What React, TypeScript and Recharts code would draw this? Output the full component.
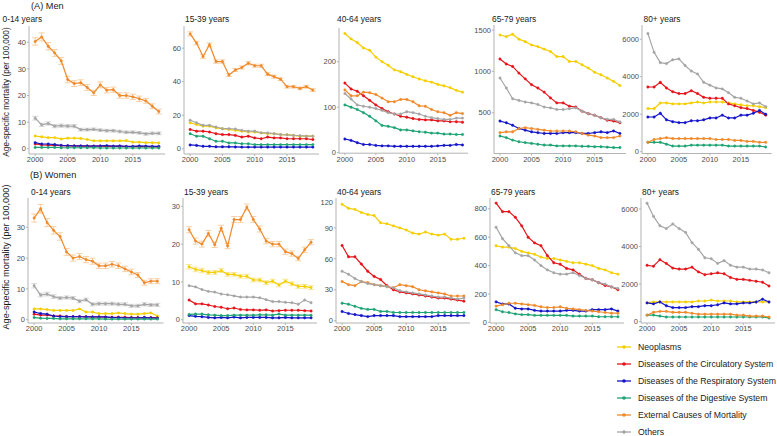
import { ErrorBar, Line, LineChart, XAxis, YAxis } from "recharts";

const YEARS = [
  2000, 2001, 2002, 2003, 2004, 2005, 2006, 2007, 2008, 2009,
  2010, 2011, 2012, 2013, 2014, 2015, 2016, 2017, 2018, 2019,
];
const X_TICKS = [2000, 2005, 2010, 2015];

const SERIES = [
  { key: "neo", name: "Neoplasms", color: "#F4CE00", errColor: "#F8E27A" },
  { key: "circ", name: "Diseases of the Circulatory System", color: "#E5141B", errColor: "#F08A8D" },
  { key: "resp", name: "Diseases of the Respiratory System", color: "#1515C8", errColor: "#8A8AE3" },
  { key: "dig", name: "Diseases of the Digestive System", color: "#1FA374", errColor: "#8FD1B9" },
  { key: "ext", name: "External Causes of Mortality", color: "#F0892A", errColor: "#F7C48F" },
  { key: "oth", name: "Others", color: "#A5A5A5", errColor: "#CDCDCD" },
];

// (A) Men, rate per 100,000
const men0to14 = {
  neo: [4.8, 4.5, 4.2, 4.2, 3.7, 4, 4, 3.9, 3.5, 3, 3, 3, 3, 3, 3.1, 2.5, 2.5, 2.3, 2.3, 2.2],
  circ: [1.8, 1.5, 1.4, 1.3, 1.2, 1.1, 1.1, 1, 1, 1, 1, 0.9, 0.9, 0.9, 0.8, 0.8, 0.8, 0.8, 0.7, 0.7],
  resp: [2.3, 1.8, 1.8, 1.6, 1.3, 1.2, 1.1, 1.1, 1.1, 1, 1.1, 1.2, 1, 1.1, 0.9, 0.9, 1.1, 1, 0.9, 0.9],
  dig: [0.5, 0.5, 0.5, 0.5, 0.4, 0.4, 0.4, 0.4, 0.4, 0.4, 0.3, 0.3, 0.3, 0.3, 0.3, 0.3, 0.3, 0.3, 0.3, 0.3],
  ext: [40.3, 42, 38.5, 36, 33, 26, 24.5, 24.8, 23, 21, 24, 22, 22.2, 20, 20, 19.5, 18.8, 18, 16, 14],
  oth: [11.5, 9, 9.5, 8.5, 8.7, 8.5, 8.5, 7.2, 7.2, 7.3, 7, 6.8, 6.8, 6.5, 6.2, 6.2, 6, 5.6, 5.8, 5.8],
};
const men0to14ExtErr = [1.4, 1.5, 1.4, 1.3, 1.3, 1.2, 1.1, 1.1, 1.1, 1, 1.1, 1, 1, 1, 1, 1, 1, 0.9, 0.9, 0.9];
const men0to14OthErr = [0.7, 0.6, 0.6, 0.6, 0.6, 0.6, 0.6, 0.5, 0.5, 0.5, 0.5, 0.5, 0.5, 0.5, 0.5, 0.5, 0.5, 0.5, 0.5, 0.5];

const men15to39 = {
  neo: [15.5, 14.5, 13.5, 13.5, 12.5, 12, 11.5, 11, 10.5, 10, 10, 9.5, 9, 9, 8.5, 8.5, 8, 7.5, 7.5, 7.5],
  circ: [11.5, 10.5, 10.5, 10, 9, 8.5, 8.5, 8, 7, 7.5, 6.5, 6, 7, 6.5, 6.5, 6, 6, 6, 6, 5.5],
  resp: [2.3, 2, 1.5, 1.5, 1.2, 1.2, 1.2, 1.1, 1, 1, 1, 1, 1, 1, 1, 1, 1, 1, 1, 1],
  dig: [9, 7.5, 7.5, 6, 4.5, 4.5, 3.5, 3.5, 3, 3, 2.5, 2.5, 2.5, 2.5, 2.5, 2.5, 2.5, 2.5, 2.5, 2.5],
  ext: [68.5, 63, 55, 62, 52, 52, 44, 47, 48.5, 51, 49.5, 49.5, 44.5, 43, 41.5, 37, 37, 36, 37, 35],
  oth: [17, 15.5, 14, 14, 13, 12, 12, 11.8, 11, 10.5, 10.5, 9.5, 9.5, 9, 8.5, 8.3, 8, 7.8, 7.5, 7.5],
};
const men15to39ExtErr = [1.2, 1.1, 1.1, 1.1, 1, 1, 0.9, 0.9, 0.9, 1, 0.9, 0.9, 0.9, 0.9, 0.8, 0.8, 0.8, 0.8, 0.8, 0.8];

const men40to64 = {
  neo: [262, 250, 242, 230, 225, 210, 200, 192, 182, 178, 172, 167, 162, 158, 155, 150, 147, 143, 137, 133],
  circ: [153, 140, 135, 125, 115, 105, 97, 90, 85, 80, 78, 75, 73, 72, 72, 70, 70, 68, 68, 67],
  resp: [30, 27, 22, 18, 18, 16, 15, 15, 14, 14, 14, 14, 14, 14, 14, 15, 16, 16, 18, 17],
  dig: [105, 100, 95, 88, 80, 70, 60, 58, 55, 50, 50, 48, 46, 45, 43, 43, 41, 41, 40, 40],
  ext: [138, 125, 125, 133, 132, 128, 120, 112, 112, 117, 117, 112, 103, 102, 95, 90, 88, 82, 88, 86],
  oth: [130, 118, 105, 102, 100, 97, 93, 88, 85, 85, 90, 88, 85, 80, 77, 75, 73, 73, 76, 76],
};

const men65to79 = {
  neo: [1440, 1420, 1450, 1390, 1360, 1320, 1300, 1270, 1240, 1180, 1180, 1120, 1120, 1080, 1040, 990, 960, 920, 880, 830],
  circ: [1150, 1090, 1060, 980, 910, 840, 800, 750, 680, 620, 620, 580, 570, 520, 490, 470, 440, 410, 400, 380],
  resp: [400, 380, 350, 310, 290, 270, 260, 250, 250, 250, 260, 260, 260, 250, 250, 260, 270, 260, 280, 250],
  dig: [220, 200, 170, 150, 140, 130, 120, 110, 110, 100, 100, 100, 100, 95, 95, 90, 90, 85, 80, 80],
  ext: [260, 270, 270, 310, 320, 310, 300, 290, 280, 280, 280, 280, 270, 250, 230, 220, 200, 200, 200, 220],
  oth: [920, 800, 670, 650, 630, 620, 600, 570, 560, 540, 540, 550, 560, 520, 490, 470, 440, 420, 420, 390],
};

const men80plus = {
  neo: [2300, 2300, 2600, 2600, 2550, 2550, 2550, 2600, 2650, 2600, 2650, 2650, 2650, 2600, 2550, 2500, 2450, 2450, 2400, 2350],
  circ: [3450, 3450, 3700, 3400, 3200, 3100, 3100, 3250, 3100, 2900, 2850, 2850, 2850, 2550, 2450, 2350, 2300, 2200, 2100, 1950],
  resp: [1850, 1850, 2050, 1700, 1600, 1550, 1550, 1650, 1650, 1700, 1800, 1800, 1950, 1800, 1800, 1950, 1950, 2050, 2200, 2000],
  dig: [500, 500, 500, 400, 300, 300, 300, 350, 350, 350, 350, 350, 350, 300, 300, 300, 300, 300, 300, 250],
  ext: [500, 650, 700, 750, 700, 700, 700, 700, 700, 700, 700, 650, 650, 650, 600, 600, 550, 550, 500, 500],
  oth: [6300, 5300, 4750, 4700, 4900, 4950, 4600, 4300, 4150, 3700, 3550, 3400, 3350, 3150, 2900, 2850, 2700, 2550, 2600, 2400],
};

// (B) Women, rate per 100,000
const women0to14 = {
  neo: [3.5, 3.5, 3.3, 3, 3, 3, 3, 3.5, 2.5, 2.5, 2, 2, 2, 2.2, 2, 1.8, 1.8, 2, 2.2, 1.2],
  circ: [1.8, 1.5, 1.5, 1.2, 1.2, 1, 1, 1, 1, 0.9, 0.9, 0.8, 0.8, 0.8, 0.8, 0.7, 0.7, 0.7, 0.7, 0.6],
  resp: [2.5, 2, 1.8, 1.2, 1, 1, 1, 1, 0.9, 0.9, 0.9, 0.9, 0.7, 0.7, 0.6, 0.6, 0.6, 0.7, 0.6, 0.5],
  dig: [0.7, 0.5, 0.4, 0.4, 0.3, 0.3, 0.3, 0.3, 0.3, 0.3, 0.3, 0.2, 0.2, 0.2, 0.2, 0.2, 0.2, 0.2, 0.2, 0.2],
  ext: [33, 36, 31.5, 29, 27, 22, 20, 20.5, 19.5, 19, 17.5, 17.5, 18, 17.5, 16.5, 15.5, 14.5, 12, 12.5, 12.5],
  oth: [11, 8, 8.3, 7.5, 7, 7.2, 7, 6, 6.5, 5, 5.2, 5.2, 5.2, 5, 5, 4.5, 4.5, 5, 4.8, 4.8],
};
const women0to14ExtErr = [1.3, 1.4, 1.3, 1.2, 1.2, 1.1, 1, 1, 1, 1, 0.9, 0.9, 0.9, 0.9, 0.9, 0.9, 0.8, 0.8, 0.8, 0.8];
const women0to14OthErr = [0.7, 0.6, 0.6, 0.6, 0.5, 0.5, 0.5, 0.5, 0.5, 0.5, 0.5, 0.5, 0.5, 0.5, 0.5, 0.5, 0.5, 0.5, 0.5, 0.5];

const women15to39 = {
  neo: [14, 13.3, 13, 12.5, 12.5, 13, 12, 12, 11.5, 11.5, 10.5, 10.5, 9.8, 10.2, 9.2, 10.2, 9.5, 8.8, 8.8, 8.5],
  circ: [5.2, 4.2, 4.2, 3.9, 3.5, 3.3, 2.9, 3.1, 2.7, 2.6, 2.6, 2.5, 2.6, 2.3, 2.4, 2.5, 2.5, 2.5, 2.4, 2.3],
  resp: [1.1, 0.9, 0.8, 0.6, 0.5, 0.6, 0.5, 0.7, 0.5, 0.6, 0.6, 0.6, 0.6, 0.5, 0.5, 0.6, 0.5, 0.5, 0.5, 0.5],
  dig: [1.4, 1.5, 1.5, 1.3, 1.2, 1.1, 1.1, 1.2, 1.2, 1.2, 1.2, 1.3, 1.3, 1.2, 1.5, 1.2, 1.2, 1.2, 1.2, 1.2],
  ext: [23.8, 20.8, 20, 22.8, 19.8, 24.2, 19.5, 26.5, 26.5, 29.8, 26.5, 24, 20.8, 20, 20, 18, 17.5, 16.2, 18.5, 20.5],
  oth: [9, 8.7, 8, 7.5, 7.3, 6.8, 6.6, 6.3, 6, 6, 6, 5.8, 5.3, 4.8, 4.8, 4.6, 4.5, 4.1, 5.2, 4.5],
};
const women15to39ExtErr = [0.8, 0.8, 0.8, 0.8, 0.7, 0.8, 0.7, 0.8, 0.8, 0.8, 0.8, 0.8, 0.7, 0.7, 0.7, 0.7, 0.7, 0.6, 0.7, 0.7];
const women15to39NeoErr = [0.6, 0.6, 0.6, 0.5, 0.5, 0.5, 0.5, 0.5, 0.5, 0.5, 0.5, 0.5, 0.5, 0.5, 0.5, 0.5, 0.5, 0.5, 0.5, 0.5];

const women40to64 = {
  neo: [113, 109, 108, 105, 103, 102, 95, 94, 92, 90, 88, 85, 84, 86, 84, 83, 84, 79, 79, 80],
  circ: [73, 62, 62, 55, 48, 43, 40, 34, 30, 28, 27, 26, 25, 24, 23, 22, 22, 21, 20, 19],
  resp: [9, 7, 6, 5, 4, 5, 5, 5, 5, 4, 4, 4, 4, 4, 4, 5, 5, 5, 5, 5],
  dig: [17, 16, 14, 12, 11, 11, 9, 9, 8, 8, 8, 8, 8, 8, 8, 8, 8, 8, 8, 8],
  ext: [38, 35, 34, 38, 37, 35, 34, 33, 32, 35, 34, 33, 30, 29, 28, 27, 26, 24, 24, 24],
  oth: [48, 45, 41, 38, 36, 35, 34, 33, 32, 29, 28, 27, 26, 25, 24, 23, 23, 22, 21, 22],
};

const women65to79 = {
  neo: [540, 530, 530, 520, 500, 490, 480, 460, 450, 450, 440, 430, 420, 420, 410, 400, 380, 370, 350, 340],
  circ: [840, 780, 780, 740, 680, 600, 560, 540, 470, 420, 410, 380, 370, 340, 310, 300, 280, 260, 250, 230],
  resp: [145, 130, 130, 100, 95, 95, 85, 80, 80, 80, 80, 85, 85, 80, 80, 90, 90, 90, 95, 80],
  dig: [90, 75, 70, 60, 55, 55, 50, 50, 50, 50, 50, 50, 45, 45, 45, 45, 40, 40, 40, 40],
  ext: [115, 125, 135, 135, 130, 125, 120, 110, 105, 105, 110, 100, 95, 90, 85, 80, 75, 70, 65, 65],
  oth: [670, 590, 540, 490, 470, 470, 440, 400, 370, 350, 340, 340, 350, 330, 310, 300, 280, 270, 250, 240],
};

const women80plus = {
  neo: [1000, 1050, 1050, 1050, 1050, 1050, 1050, 1050, 1100, 1100, 1150, 1100, 1100, 1100, 1050, 1050, 1050, 1050, 1050, 1050],
  circ: [3000, 2950, 3300, 3100, 2850, 2800, 2800, 2900, 2650, 2500, 2550, 2600, 2550, 2350, 2250, 2250, 2200, 2150, 2100, 1900],
  resp: [1000, 950, 1050, 850, 750, 750, 750, 800, 800, 850, 850, 900, 1000, 950, 950, 1000, 1000, 1050, 1200, 1050],
  dig: [350, 350, 300, 250, 250, 250, 250, 250, 250, 250, 250, 250, 250, 250, 250, 250, 250, 250, 250, 200],
  ext: [350, 500, 550, 550, 500, 500, 500, 450, 400, 400, 400, 400, 400, 400, 350, 350, 300, 300, 300, 250],
  oth: [6300, 5600, 5100, 4950, 5200, 4950, 4750, 4200, 3850, 3400, 3350, 3100, 3250, 3000, 2900, 2900, 2800, 2800, 2750, 2600],
};

type SeriesData = Record<string, number[]>;
type Panel = {
  title: string;
  titleX: number;
  data: SeriesData;
  errors?: SeriesData;
  yTicks: number[];
  yDomain: [number, number];
  box: { left: number; right: number; top: number; bottom: number };
};

const ROW_A = { top: 25.5, bottom: 153.5 };
const ROW_B = { top: 198.3, bottom: 323.3 };

const PANELS: Panel[] = [
  { title: "0-14 years", titleX: 2.5, data: men0to14, errors: { ext: men0to14ExtErr, oth: men0to14OthErr },
    yTicks: [0, 10, 20, 30, 40], yDomain: [-1.95, 46.1], box: { left: 29, right: 165, ...ROW_A } },
  { title: "15-39 years", titleX: 185, data: men15to39, errors: { ext: men15to39ExtErr },
    yTicks: [0, 20, 40, 60], yDomain: [-3.1, 73.2], box: { left: 184, right: 319, ...ROW_A } },
  { title: "40-64 years", titleX: 337, data: men40to64,
    yTicks: [0, 100, 200], yDomain: [-1.1, 274], box: { left: 338.6, right: 468, top: 28.3, bottom: 153.5 } },
  { title: "65-79 years", titleX: 492, data: men65to79,
    yTicks: [500, 1000, 1500], yDomain: [8, 1561], box: { left: 493.7, right: 625.6, top: 25, bottom: 153.5 } },
  { title: "80+ years", titleX: 643.5, data: men80plus,
    yTicks: [0, 2000, 4000, 6000], yDomain: [-96, 6757], box: { left: 642.4, right: 772, top: 25, bottom: 153.5 } },
  { title: "0-14 years", titleX: 31, data: women0to14, errors: { ext: women0to14ExtErr, oth: women0to14OthErr },
    yTicks: [0, 10, 20, 30], yDomain: [-1.07, 39.5], box: { left: 28.3, right: 163.8, ...ROW_B } },
  { title: "15-39 years", titleX: 184, data: women15to39, errors: { ext: women15to39ExtErr, neo: women15to39NeoErr },
    yTicks: [0, 10, 20, 30], yDomain: [-0.87, 32.2], box: { left: 182.6, right: 316.8, ...ROW_B } },
  { title: "40-64 years", titleX: 337, data: women40to64,
    yTicks: [0, 30, 60, 90, 120], yDomain: [-2.2, 119], box: { left: 336.4, right: 470.4, ...ROW_B } },
  { title: "65-79 years", titleX: 491, data: women65to79,
    yTicks: [0, 200, 400, 600, 800], yDomain: [-4, 876], box: { left: 489.7, right: 623.7, ...ROW_B } },
  { title: "80+ years", titleX: 642, data: women80plus,
    yTicks: [0, 2000, 4000, 6000], yDomain: [-69, 6578], box: { left: 640.9, right: 775, ...ROW_B } },
];

const FONT = '"Liberation Sans", Arial, sans-serif';
const AXIS_COLOR = "#B3B3B3";
const TICK_STYLE = { fontSize: 7.5, fill: "#4D4D4D", fontFamily: FONT };
const Y_AXIS_W = 30;
const X_AXIS_H = 14;

function SmallMultiple({ panel }: { panel: Panel }) {
  const { box, data, errors } = panel;
  const rows = YEARS.map((year, i) => {
    const row: Record<string, number> = { year };
    for (const s of SERIES) {
      row[s.key] = data[s.key][i];
      if (errors?.[s.key]) row[`${s.key}Err`] = errors[s.key][i];
    }
    return row;
  });

  const width = box.right - box.left + Y_AXIS_W;
  const height = box.bottom - box.top + X_AXIS_H;

  return (
    <div style={{ position: "absolute", left: box.left - Y_AXIS_W, top: box.top }}>
      <LineChart width={width} height={height} data={rows} margin={{ top: 0, right: 0, bottom: 0, left: 0 }}>
        <XAxis
          dataKey="year"
          type="number"
          domain={[1999.05, 2019.95]}
          ticks={X_TICKS}
          height={X_AXIS_H}
          stroke={AXIS_COLOR}
          tick={TICK_STYLE}
          tickSize={2}
          tickMargin={1}
          allowDataOverflow
        />
        <YAxis
          type="number"
          domain={panel.yDomain}
          ticks={panel.yTicks}
          width={Y_AXIS_W}
          stroke={AXIS_COLOR}
          tick={TICK_STYLE}
          tickSize={2}
          tickMargin={1}
          allowDataOverflow
        />
        {SERIES.map((s) => (
          <Line
            key={s.key}
            dataKey={s.key}
            type="linear"
            stroke={s.color}
            strokeWidth={1.2}
            dot={{ r: 1.2, fill: s.color, stroke: s.color, strokeWidth: 0.5 }}
            isAnimationActive={false}
          >
            {errors?.[s.key] && (
              <ErrorBar dataKey={`${s.key}Err`} width={3} stroke={s.errColor} strokeWidth={0.8} direction="y" />
            )}
          </Line>
        ))}
      </LineChart>
    </div>
  );
}

const LEGEND_ROWS = [347, 364, 381, 398, 415, 432];

export default function App() {
  return (
    <div style={{ position: "absolute", left: 0, top: 0, width: 777, height: 436, background: "#fff", fontFamily: FONT }}>
      {PANELS.map((p, i) => (
        <SmallMultiple key={i} panel={p} />
      ))}
      <svg width={777} height={436} style={{ position: "absolute", left: 0, top: 0, pointerEvents: "none" }}>
        <g fontFamily={FONT} fill="#1A1A1A">
          <text x={31} y={6} fontSize={9.2} dominantBaseline="central">(A) Men</text>
          <text x={30} y={175} fontSize={9.2} dominantBaseline="central">(B) Women</text>
          {PANELS.map((p, i) => (
            <text key={i} x={p.titleX} y={i < 5 ? 19 : 191.5} fontSize={8.4} dominantBaseline="central">
              {p.title}
            </text>
          ))}
          <text x={6} y={92} fontSize={8.2} textAnchor="middle" dominantBaseline="central" transform="rotate(-90 6 92)">
            Age-specific mortality (per 100,000)
          </text>
          <text x={6} y={257} fontSize={9.2} textAnchor="middle" dominantBaseline="central" transform="rotate(-90 6 257)">
            Age-specific mortality (per 100,000)
          </text>
        </g>
        <g fontFamily={FONT}>
          {SERIES.map((s, i) => (
            <g key={s.key}>
              <line x1={617} x2={631} y1={LEGEND_ROWS[i]} y2={LEGEND_ROWS[i]} stroke={s.color} strokeWidth={1.3} />
              <circle cx={624} cy={LEGEND_ROWS[i]} r={1.8} fill={s.color} />
              <text x={638} y={LEGEND_ROWS[i]} fontSize={8.7} fill="#1A1A1A" dominantBaseline="central">
                {s.name}
              </text>
            </g>
          ))}
        </g>
      </svg>
    </div>
  );
}
